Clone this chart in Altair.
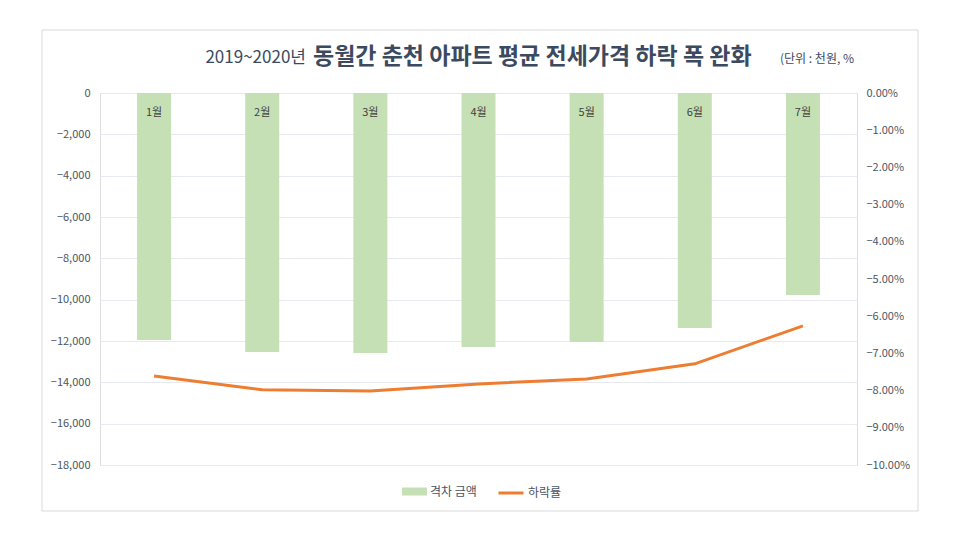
import altair as alt
import pandas as pd

months = ["1월", "2월", "3월", "4월", "5월", "6월", "7월"]
gap_amount = [-11950, -12530, -12580, -12290, -12050, -11370, -9770]
decline_rate = [-7.61, -7.98, -8.01, -7.82, -7.69, -7.28, -6.26]

title_year = "2019~2020년"
title_main = "동월간 춘천 아파트 평균 전세가격 하락 폭 완화"
unit_text = "(단위 : 천원, %"

df = pd.DataFrame({
    "month": months,
    "gap": gap_amount,
    "rate": decline_rate,
    "zero": [0] * len(months),
    "s1": ["격차 금액"] * len(months),
    "s2": ["하락률"] * len(months),
})

FONT = "Noto Sans CJK KR"
LABEL = "#4a5563"
TITLE = "#3b4a5f"
GREEN = "#C5E0B4"
ORANGE = "#ED7D31"

x_enc = alt.X("month:N", sort=months, axis=None,
              scale=alt.Scale(paddingInner=0.685, paddingOuter=0.3425))

base = alt.Chart(df)

bars = base.mark_bar(size=34).encode(
    x=x_enc,
    y=alt.Y("gap:Q", scale=alt.Scale(domain=[-18000, 0], nice=False),
            axis=alt.Axis(values=list(range(-18000, 1, 2000)), format=",.0f", title=None,
                          domain=False, ticks=False, labelPadding=10,
                          labelColor=LABEL, labelFontSize=11, labelFont=FONT,
                          gridColor="#e6e9ef", gridWidth=1)),
    fill=alt.Fill("s1:N", scale=alt.Scale(domain=["격차 금액"], range=[GREEN]),
                  legend=alt.Legend(title=None, orient="none", legendX=302, legendY=386,
                                    symbolType="M-1,-0.32H1V0.32H-1Z", symbolSize=625,
                                    symbolStrokeWidth=0, labelFont=FONT, labelFontSize=12,
                                    labelColor=LABEL, labelOffset=3)),
)

labels = base.mark_text(dy=20, fontSize=11, font=FONT, color="#404040").encode(
    x=x_enc,
    y=alt.Y("zero:Q"),
    text="month:N",
)

left = alt.layer(bars, labels)

line = base.mark_line(strokeWidth=3).encode(
    x=x_enc,
    y=alt.Y("rate:Q", scale=alt.Scale(domain=[-10, 0], nice=False),
            axis=alt.Axis(orient="right", values=list(range(-10, 1)), title=None,
                          labelExpr="format(datum.value, '.2f') + '%'",
                          domain=False, ticks=False, grid=False, labelPadding=9,
                          labelColor=LABEL, labelFontSize=11, labelFont=FONT)),
    stroke=alt.Stroke("s2:N", scale=alt.Scale(domain=["하락률"], range=[ORANGE]),
                      legend=alt.Legend(title=None, orient="none", legendX=397, legendY=386,
                                        symbolType="stroke", symbolSize=625,
                                        symbolStrokeWidth=3, labelFont=FONT, labelFontSize=12,
                                        labelColor=LABEL, labelOffset=3)),
)

frame = alt.Chart(pd.DataFrame({"f": [0]})).mark_rect(
    fill=None, stroke="#d9d9d9", strokeWidth=1
).encode(x=alt.value(-58), x2=alt.value(818), y=alt.value(-63), y2=alt.value(418))

t1 = alt.Chart(pd.DataFrame({"t": [title_year]})).mark_text(
    font=FONT, fontSize=17, color=TITLE, align="right", baseline="middle"
).encode(x=alt.value(206), y=alt.value(-35), text="t:N")

t2 = alt.Chart(pd.DataFrame({"t": [title_main]})).mark_text(
    font=FONT, fontSize=23, fontWeight="bold", color=TITLE, align="left", baseline="middle"
).encode(x=alt.value(213), y=alt.value(-36), text="t:N")

unit = alt.Chart(pd.DataFrame({"t": [unit_text]})).mark_text(
    font=FONT, fontSize=12, color=TITLE, align="left", baseline="middle"
).encode(x=alt.value(680), y=alt.value(-34), text="t:N")

chart = alt.layer(frame, left, line, t1, t2, unit).resolve_scale(
    y="independent", fill="independent", stroke="independent"
).properties(
    width=757, height=372,
    padding={"left": 92, "top": 85, "right": 90, "bottom": 60},
    autosize=alt.AutoSizeParams(type="none"),
).configure_view(stroke=None).configure(font=FONT)

chart.save("out.html", embed_options={"renderer": "svg", "actions": False})
